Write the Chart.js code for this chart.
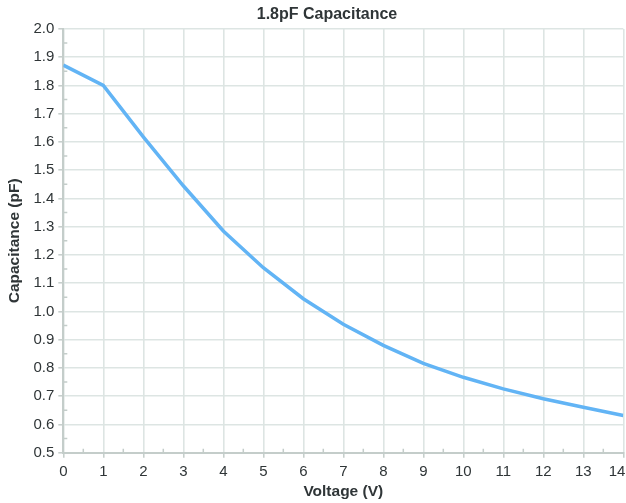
<!DOCTYPE html>
<html>
<head>
<meta charset="utf-8">
<script src="https://cdn.jsdelivr.net/npm/chart.js@4/dist/chart.umd.min.js"></script>
<style>
  html, body { margin: 0; padding: 0; background: #ffffff; }
  #wrap { width: 626px; height: 503px; position: relative; }
</style>
</head>
<body>
<div id="wrap"><canvas id="c" width="626" height="503"></canvas></div>
<script>
// ---- data ----
const chartTitle = '1.8pF Capacitance';
const xAxisTitle = 'Voltage (V)';
const yAxisTitle = 'Capacitance (pF)';
const voltages = [0, 1, 2, 3, 4, 5, 6, 7, 8, 9, 10, 11, 12, 13, 14];
const capacitance = [1.872, 1.800, 1.618, 1.445, 1.285, 1.155, 1.045, 0.955, 0.880, 0.816, 0.767, 0.726, 0.691, 0.661, 0.632];
const xTickLabels = ['0', '1', '2', '3', '4', '5', '6', '7', '8', '9', '10', '11', '12', '13', '14'];
const yTickLabels = ['0.5', '0.6', '0.7', '0.8', '0.9', '1.0', '1.1', '1.2', '1.3', '1.4', '1.5', '1.6', '1.7', '1.8', '1.9', '2.0'];

// ---- styles ----
const FONT = '"Liberation Sans", Arial, Helvetica, sans-serif';
const TEXT = '#2f3537';
const GRID = '#dde5e3';
const AXIS = '#c4cdca';
const LINE = '#62b4f5';

const minorTicks = {
  id: 'minorTicks',
  beforeDatasetsDraw(chart) {
    const ctx = chart.ctx;
    const xs = chart.scales.x, ys = chart.scales.y;
    const a = chart.chartArea;
    ctx.save();
    ctx.strokeStyle = AXIS;
    ctx.lineWidth = 1.5;
    ctx.beginPath();
    for (let i = 0; i < xTickLabels.length - 1; i++) {
      const px = xs.getPixelForValue(i + 0.5);
      ctx.moveTo(px, a.bottom);
      ctx.lineTo(px, a.bottom - 4);
    }
    for (let i = 0; i < yTickLabels.length - 1; i++) {
      const py = ys.getPixelForValue(0.55 + i * 0.1);
      ctx.moveTo(a.left, py);
      ctx.lineTo(a.left + 4, py);
    }
    ctx.stroke();
    ctx.restore();
  },
  afterDraw(chart) {
    const ctx = chart.ctx;
    ctx.save();
    ctx.fillStyle = TEXT;
    ctx.font = 'bold 16px ' + FONT;
    ctx.textAlign = 'center';
    ctx.textBaseline = 'alphabetic';
    ctx.fillText(chartTitle, 327, 18.5);
    ctx.restore();
  }
};

new Chart(document.getElementById('c'), {
  type: 'line',
  data: {
    datasets: [{
      data: voltages.map((v, i) => ({ x: v, y: capacitance[i] })),
      borderColor: LINE,
      borderWidth: 3.5,
      pointRadius: 0,
      tension: 0,
      fill: false
    }]
  },
  options: {
    responsive: false,
    animation: false,
    devicePixelRatio: 1,
    layout: { padding: { top: 29, right: 2.7, bottom: 0, left: 0 } },
    plugins: {
      legend: { display: false },
      title: { display: false },
      tooltip: { enabled: false }
    },
    scales: {
      x: {
        type: 'linear',
        min: 0, max: 14,
        ticks: {
          stepSize: 1,
          color: TEXT,
          font: { family: FONT, size: 15 },
          padding: 5,
          maxRotation: 0,
          callback: (v, i, arr) => i === arr.length - 1 ? xTickLabels[i] + '   ' : xTickLabels[i]
        },
        grid: { color: GRID, lineWidth: 1.6, tickColor: AXIS, tickLength: 5, tickWidth: 1.5 },
        border: { color: AXIS, width: 2 },
        title: {
          display: true, text: xAxisTitle, color: TEXT,
          font: { family: FONT, size: 15.5, weight: 'bold' },
          padding: { top: 0, bottom: 2.4 }
        },
        afterFit(s) { s.height = 50.3; s.paddingRight = 0; s.paddingLeft = 0; }
      },
      y: {
        type: 'linear',
        min: 0.5, max: 2.0,
        ticks: {
          stepSize: 0.1,
          color: TEXT,
          font: { family: FONT, size: 15 },
          padding: 4,
          callback: (v, i) => yTickLabels[i]
        },
        grid: { color: GRID, lineWidth: 1.6, tickColor: AXIS, tickLength: 5, tickWidth: 1.5 },
        border: { color: AXIS, width: 2 },
        title: {
          display: true, text: yAxisTitle, color: TEXT,
          font: { family: FONT, size: 15.5, weight: 'bold' },
          padding: { top: 5.8, bottom: 0 }
        },
        afterFit(s) { s.width = 63.3; s.paddingTop = 0; s.paddingBottom = 0; }
      }
    }
  },
  plugins: [minorTicks]
});
</script>
</body>
</html>
